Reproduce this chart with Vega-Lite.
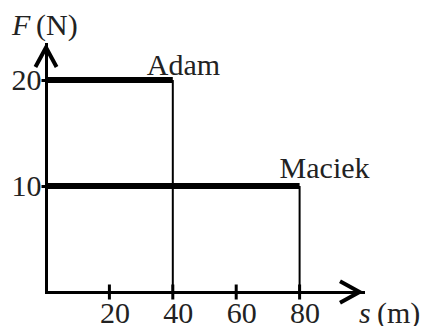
{
  "$schema": "https://vega.github.io/schema/vega-lite/v6.json",
  "width": 317,
  "height": 248,
  "autosize": "none",
  "padding": {"left": 46, "top": 44, "right": 59, "bottom": 34},
  "background": "white",
  "config": {"view": {"stroke": null}, "font": "Liberation Serif"},
  "datasets": {
    "runs": [
      {"name": "Adam", "s": 40, "F": 20},
      {"name": "Maciek", "s": 80, "F": 10}
    ],
    "xticks": [
      {"s": 20, "F": 0},
      {"s": 40, "F": 0},
      {"s": 60, "F": 0},
      {"s": 80, "F": 0}
    ],
    "arrows": [
      {"axis": "s", "s": 100, "F": 0},
      {"axis": "F", "s": 0, "F": 23.4}
    ]
  },
  "layer": [
    {
      "data": {"name": "runs"},
      "mark": {"type": "rule", "color": "black", "strokeWidth": 6, "strokeCap": "butt"},
      "encoding": {
        "x": {
          "field": "s",
          "type": "quantitative",
          "scale": {"domain": [0, 100], "nice": false},
          "axis": {
            "values": [20, 40, 60, 80],
            "title": null,
            "grid": false,
            "ticks": false,
            "domain": true,
            "domainColor": "black",
            "domainWidth": 3,
            "domainCap": "square",
            "labelFontSize": 30,
            "labelColor": "#222",
            "labelPadding": 30,
            "labelBaseline": "alphabetic",
            "labelOffset": 5,
            "labelFlush": false,
            "labelOverlap": false
          }
        },
        "x2": {"datum": 0},
        "y": {
          "field": "F",
          "type": "quantitative",
          "scale": {"domain": [0, 23.4], "nice": false},
          "axis": {
            "values": [10, 20],
            "title": null,
            "grid": false,
            "ticks": true,
            "tickSize": 5,
            "tickWidth": 3,
            "tickColor": "black",
            "domain": true,
            "domainColor": "black",
            "domainWidth": 3,
            "domainCap": "square",
            "labelFontSize": 30,
            "labelColor": "#222",
            "labelPadding": 0,
            "labelFlush": false,
            "labelOverlap": false
          }
        }
      }
    },
    {
      "data": {"name": "runs"},
      "mark": {"type": "rule", "color": "black", "strokeWidth": 2},
      "encoding": {
        "x": {"field": "s", "type": "quantitative"},
        "y": {"field": "F", "type": "quantitative"},
        "y2": {"datum": 0}
      }
    },
    {
      "data": {"name": "xticks"},
      "mark": {"type": "tick", "orient": "vertical", "size": 15, "thickness": 3, "color": "black", "opacity": 1},
      "encoding": {
        "x": {"field": "s", "type": "quantitative"},
        "y": {"field": "F", "type": "quantitative"}
      }
    },
    {
      "data": {"name": "arrows"},
      "mark": {"type": "point", "filled": false, "stroke": "black", "strokeWidth": 4, "opacity": 1, "size": 2116},
      "encoding": {
        "x": {"field": "s", "type": "quantitative"},
        "y": {"field": "F", "type": "quantitative"},
        "shape": {
          "field": "axis",
          "type": "nominal",
          "scale": {"domain": ["s", "F"], "range": ["M-1,-0.47L-0.15,0L-1,0.47", "M-0.46,1L0,0.15L0.46,1"]},
          "legend": null
        }
      }
    },
    {
      "data": {"name": "runs"},
      "transform": [{"filter": "datum.name === 'Adam'"}],
      "mark": {"type": "text", "align": "left", "baseline": "alphabetic", "dx": -26, "dy": -5, "fontSize": 30, "color": "#222"},
      "encoding": {
        "x": {"field": "s", "type": "quantitative"},
        "y": {"field": "F", "type": "quantitative"},
        "text": {"field": "name"}
      }
    },
    {
      "data": {"name": "runs"},
      "transform": [{"filter": "datum.name === 'Maciek'"}],
      "mark": {"type": "text", "align": "left", "baseline": "alphabetic", "dx": -20, "dy": -8, "fontSize": 30, "color": "#222"},
      "encoding": {
        "x": {"field": "s", "type": "quantitative"},
        "y": {"field": "F", "type": "quantitative"},
        "text": {"field": "name"}
      }
    },
    {
      "data": {"values": [{"label": "F", "s": 0, "F": 23.4}]},
      "mark": {"type": "text", "align": "left", "baseline": "alphabetic", "dx": -34, "dy": -9, "fontSize": 30, "fontStyle": "italic", "color": "#222"},
      "encoding": {
        "x": {"field": "s", "type": "quantitative"},
        "y": {"field": "F", "type": "quantitative"},
        "text": {"field": "label"}
      }
    },
    {
      "data": {"values": [{"label": "(N)", "s": 0, "F": 23.4}]},
      "mark": {"type": "text", "align": "left", "baseline": "alphabetic", "dx": -10, "dy": -9, "fontSize": 30, "color": "#222"},
      "encoding": {
        "x": {"field": "s", "type": "quantitative"},
        "y": {"field": "F", "type": "quantitative"},
        "text": {"field": "label"}
      }
    },
    {
      "data": {"values": [{"label": "s", "s": 100, "F": 0}]},
      "mark": {"type": "text", "align": "left", "baseline": "alphabetic", "dx": -4, "dy": 31, "fontSize": 30, "fontStyle": "italic", "color": "#222"},
      "encoding": {
        "x": {"field": "s", "type": "quantitative"},
        "y": {"field": "F", "type": "quantitative"},
        "text": {"field": "label"}
      }
    },
    {
      "data": {"values": [{"label": "(m)", "s": 100, "F": 0}]},
      "mark": {"type": "text", "align": "left", "baseline": "alphabetic", "dx": 14, "dy": 31, "fontSize": 30, "color": "#222"},
      "encoding": {
        "x": {"field": "s", "type": "quantitative"},
        "y": {"field": "F", "type": "quantitative"},
        "text": {"field": "label"}
      }
    }
  ]
}
